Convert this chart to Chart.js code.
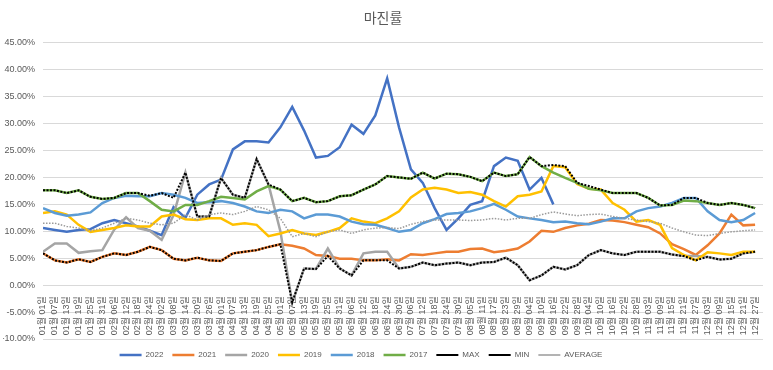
<!DOCTYPE html>
<html>
<head>
<meta charset="utf-8">
<title>마진률</title>
<script src="https://cdn.jsdelivr.net/npm/chart.js@4.4.1/dist/chart.umd.min.js"></script>
<style>
    html, body { margin: 0; padding: 0; background: #ffffff; }
    #chartWrap { width: 773px; height: 370px; }
</style>
</head>
<body>
<div id="chartWrap"><canvas id="marginChart" width="773" height="370"></canvas></div>
<script>
// one point every 6 days, first point is 01월 01일
var DAY_STEP = 6;
var dateLabels = [
    '01월 01일', '01월 07일', '01월 13일', '01월 19일', '01월 25일', '01월 31일',
    '02월 06일', '02월 12일', '02월 18일', '02월 24일', '03월 02일', '03월 08일',
    '03월 14일', '03월 20일', '03월 26일', '04월 01일', '04월 07일', '04월 13일',
    '04월 19일', '04월 25일', '05월 01일', '05월 07일', '05월 13일', '05월 19일',
    '05월 25일', '05월 31일', '06월 06일', '06월 12일', '06월 18일', '06월 24일',
    '06월 30일', '07월 06일', '07월 12일', '07월 18일', '07월 24일', '07월 30일',
    '08월 05일', '08월 11일', '08월 17일', '08월 23일', '08월 29일', '09월 04일',
    '09월 10일', '09월 16일', '09월 22일', '09월 28일', '10월 04일', '10월 10일',
    '10월 16일', '10월 22일', '10월 28일', '11월 03일', '11월 09일', '11월 15일',
    '11월 21일', '11월 27일', '12월 03일', '12월 09일', '12월 15일', '12월 21일',
    '12월 27일'
];

var margin2022 = [10.6, 10.25, 9.9, 10.25, 10.4, 11.5, 12.1, 11.5, 10.9, 10.1,
    9.3, 14.5, 12.5, 16.8, 18.7, 19.6, 25.2, 26.7, 26.7, 26.5,
    29.3, 33.1, 28.7, 23.7, 24.0, 25.6, 29.8, 28.1, 31.5, 38.4,
    29.3, 21.5, 19.0, 14.3, 10.25, 12.4, 14.9, 15.6, 22.1, 23.7,
    23.1, 17.75, 19.9, 15.0, null, null, null, null, null, null,
    null, null, null, null, null, null, null, null, null, null, null];
var margin2021 = [5.9, 4.6, 4.2, 4.8, 4.3, 5.25, 5.9, 5.6, 6.2, 7.1,
    6.5, 4.9, 4.6, 5.1, 4.6, 4.5, 5.9, 6.2, 6.5, 7.1,
    7.6, 7.3, 6.8, 5.6, 5.4, 4.9, 4.9, 4.6, 4.6, 4.8,
    4.6, 5.75, 5.6, 5.9, 6.2, 6.2, 6.7, 6.8, 6.1, 6.4,
    6.8, 8.1, 10.1, 9.9, 10.6, 11.1, 11.4, 12.1, 12.0, 11.7,
    11.2, 10.75, 9.6, 7.6, 6.7, 5.6, 7.4, 9.6, 13.1, 11.1, 11.2];
var margin2020 = [6.2, 7.75, 7.75, 6.0, 6.3, 6.5, 10.3, 12.6, 10.6, 10.1,
    8.4, 13.0, 20.9, 12.75, 12.75, 19.9, 16.8, 16.2, 23.4, 18.7,
    10.0, -3.2, 3.1, 3.0, 6.8, 3.1, 1.8, 5.9, 6.2, 6.2,
    3.1, 3.4, 4.2, 3.7, 4.0, 4.2, 3.7, 4.2, 4.3, 5.1,
    3.7, 0.9, 1.8, 3.4, 2.9, 3.7, 5.6, 6.5, 5.9, 5.6,
    6.2, 6.2, 6.2, 5.7, 5.4, 5.4, 5.25, 4.75, 4.9, 5.9, 6.2];
var margin2019 = [13.4, 13.7, 13.1, 11.2, 9.9, 10.25, 10.6, 11.1, 10.9, 10.9,
    12.75, 13.1, 12.25, 12.1, 12.4, 12.4, 11.2, 11.5, 11.2, 9.1,
    9.6, 10.25, 9.6, 9.3, 9.9, 10.6, 12.4, 11.8, 11.5, 12.4,
    13.7, 16.3, 17.75, 18.1, 17.75, 17.1, 17.3, 16.8, 15.6, 14.6,
    16.5, 16.8, 17.4, 22.1, 21.9, 18.8, 17.9, 17.75, 15.25, 14.0,
    11.8, 12.1, 11.2, 6.9, 5.6, 4.6, 6.1, 5.9, 5.6, 6.2, 6.2];
var margin2018 = [14.3, 13.4, 12.9, 13.1, 13.5, 15.25, 16.2, 16.6, 16.5, 16.5,
    17.1, 16.8, 16.2, 15.25, 15.4, 15.6, 15.25, 14.6, 13.7, 13.4,
    14.0, 13.7, 12.4, 13.1, 13.1, 12.75, 11.8, 11.3, 11.2, 10.6,
    9.9, 10.25, 11.5, 12.25, 13.2, 13.4, 13.7, 14.3, 15.1, 14.0,
    12.75, 12.4, 12.1, 11.7, 11.8, 11.5, 11.3, 11.8, 12.4, 12.4,
    13.7, 14.3, 14.6, 15.25, 16.2, 16.2, 13.7, 12.1, 11.7, 12.1, 13.4];
var margin2017 = [17.6, 17.6, 17.1, 17.6, 16.4, 16.0, 16.2, 17.1, 17.1, 15.6,
    14.0, 13.7, 14.9, 14.9, 15.6, 16.4, 16.2, 15.9, 17.4, 18.4,
    17.75, 15.6, 16.2, 15.4, 15.6, 16.5, 16.7, 17.75, 18.7, 20.25,
    20.0, 19.75, 20.9, 19.8, 20.7, 20.6, 20.1, 19.3, 20.9, 20.25,
    20.6, 23.8, 22.1, 20.9, 19.9, 19.0, 17.9, 17.6, 17.1, 17.1,
    17.1, 16.2, 14.8, 14.9, 15.7, 15.6, 15.25, 14.9, 15.25, 14.9, 14.3];
var marginMax = [17.6, 17.6, 17.1, 17.6, 16.4, 16.0, 16.2, 17.1, 17.1, 16.6,
    17.1, 16.2, 20.9, 12.75, 12.75, 19.9, 16.8, 16.2, 23.4, 18.7,
    17.75, 15.6, 16.2, 15.4, 15.6, 16.5, 16.7, 17.75, 18.7, 20.25,
    20.0, 19.75, 20.9, 19.8, 20.7, 20.6, 20.1, 19.3, 20.9, 20.25,
    20.6, 23.8, 22.1, 22.3, 22.1, 19.0, 18.4, 17.75, 17.1, 17.1,
    17.1, 16.2, 14.8, 14.9, 16.2, 16.2, 15.25, 14.9, 15.25, 14.9, 14.3];
var marginMin = [5.9, 4.6, 4.2, 4.8, 4.3, 5.25, 5.9, 5.6, 6.2, 7.1,
    6.5, 4.9, 4.6, 5.1, 4.6, 4.5, 5.9, 6.2, 6.5, 7.1,
    7.6, -3.2, 3.1, 3.0, 5.4, 3.1, 1.8, 4.6, 4.6, 4.6,
    3.1, 3.4, 4.2, 3.7, 4.0, 4.2, 3.7, 4.2, 4.3, 5.1,
    3.7, 0.9, 1.8, 3.4, 2.9, 3.7, 5.6, 6.5, 5.9, 5.6,
    6.2, 6.2, 6.2, 5.7, 5.4, 4.6, 5.25, 4.75, 4.9, 5.9, 6.2];
var marginAvg = [11.5, 11.5, 10.9, 10.6, 10.1, 10.6, 11.5, 12.4, 12.1, 11.5,
    11.2, 11.5, 13.1, 12.1, 13.1, 13.4, 13.1, 13.7, 14.6, 14.0,
    12.4, 9.0, 9.6, 9.0, 9.9, 10.25, 9.6, 10.25, 10.6, 10.7,
    10.5, 11.3, 11.8, 12.1, 12.1, 12.1, 12.0, 12.1, 12.4, 12.1,
    12.4, 12.4, 13.1, 13.6, 13.2, 12.9, 13.1, 13.2, 12.75, 12.4,
    12.1, 11.8, 11.5, 10.6, 9.9, 9.3, 9.2, 9.6, 9.9, 10.1, 10.25];

var FONT_FAMILY = "'Liberation Sans', 'Noto Sans CJK KR', sans-serif";
var TEXT_COLOR = '#595959';

function toPoints(values) {
    return values.map(function (v, i) {
        return { x: i * DAY_STEP, y: v };
    });
}

function makeLine(label, values, color, width, dash) {
    return {
        label: label,
        data: toPoints(values),
        borderColor: color,
        backgroundColor: color,
        borderWidth: width,
        borderDash: dash || [],
        borderCapStyle: 'butt',
        pointRadius: 0,
        pointHoverRadius: 0,
        tension: 0,
        fill: false
    };
}

// the legend in the sheet sits a bit left of centre and lower
var legendNudge = {
    id: 'legendNudge',
    afterLayout: function (chart) {
        var lg = chart.legend;
        if (!lg) return;
        lg.left -= 22; lg.right -= 22;
        lg.top += 3; lg.bottom += 3;
    }
};

function initMarginChart() {
    var datasets = [
        makeLine('2022', margin2022, '#4472C4', 2.5),
        makeLine('2021', margin2021, '#ED7D31', 2.5),
        makeLine('2020', margin2020, '#A5A5A5', 2.5),
        makeLine('2019', margin2019, '#FFC000', 2.5),
        makeLine('2018', margin2018, '#5B9BD5', 2.5),
        makeLine('2017', margin2017, '#70AD47', 2.5),
        makeLine('MAX', marginMax, '#000000', 2, [2, 1.5]),
        makeLine('MIN', marginMin, '#000000', 2, [2, 1.5]),
        makeLine('AVERAGE', marginAvg, '#9a9a9a', 1.5, [1.5, 1.5])
    ];
    // later series are painted on top, like the original sheet
    datasets.forEach(function (ds, i) {
        ds.order = datasets.length - 1 - i;
    });

    var ctx = document.getElementById('marginChart').getContext('2d');
    new Chart(ctx, {
        type: 'line',
        data: { datasets: datasets },
        plugins: [legendNudge],
        options: {
            responsive: false,
            animation: false,
            layout: { padding: { left: 3, right: 10, top: 0, bottom: 4 } },
            plugins: {
                title: {
                    display: true,
                    text: '마진률',
                    color: TEXT_COLOR,
                    font: { family: FONT_FAMILY, size: 14, weight: 'normal' },
                    padding: { top: 11, bottom: 15 }
                },
                legend: {
                    position: 'bottom',
                    labels: {
                        usePointStyle: true,
                        pointStyle: 'line',
                        pointStyleWidth: 22,
                        boxHeight: 8,
                        padding: 9,
                        color: TEXT_COLOR,
                        font: { family: FONT_FAMILY, size: 8 },
                        sort: function (a, b) { return a.datasetIndex - b.datasetIndex; }
                    }
                },
                tooltip: { enabled: false }
            },
            scales: {
                x: {
                    type: 'linear',
                    position: { y: 0 },
                    min: 0,
                    max: 364,
                    grid: { display: false },
                    border: { display: false },
                    ticks: {
                        stepSize: DAY_STEP,
                        includeBounds: false,
                        autoSkip: false,
                        minRotation: 90,
                        maxRotation: 90,
                        padding: 3,
                        color: TEXT_COLOR,
                        font: { family: FONT_FAMILY, size: 9 },
                        callback: function (value) {
                            var idx = value / DAY_STEP;
                            return Number.isInteger(idx) && dateLabels[idx] ? dateLabels[idx] : '';
                        }
                    }
                },
                y: {
                    min: -10,
                    max: 45,
                    grid: { color: '#d9d9d9', lineWidth: 1, drawTicks: false },
                    border: { display: false },
                    ticks: {
                        stepSize: 5,
                        padding: 8,
                        color: TEXT_COLOR,
                        font: { family: FONT_FAMILY, size: 9 },
                        callback: function (value) { return value.toFixed(2) + '%'; }
                    },
                    afterFit: function (scale) { scale.width = 40; }
                }
            }
        }
    });
}

initMarginChart();
</script>
</body>
</html>
